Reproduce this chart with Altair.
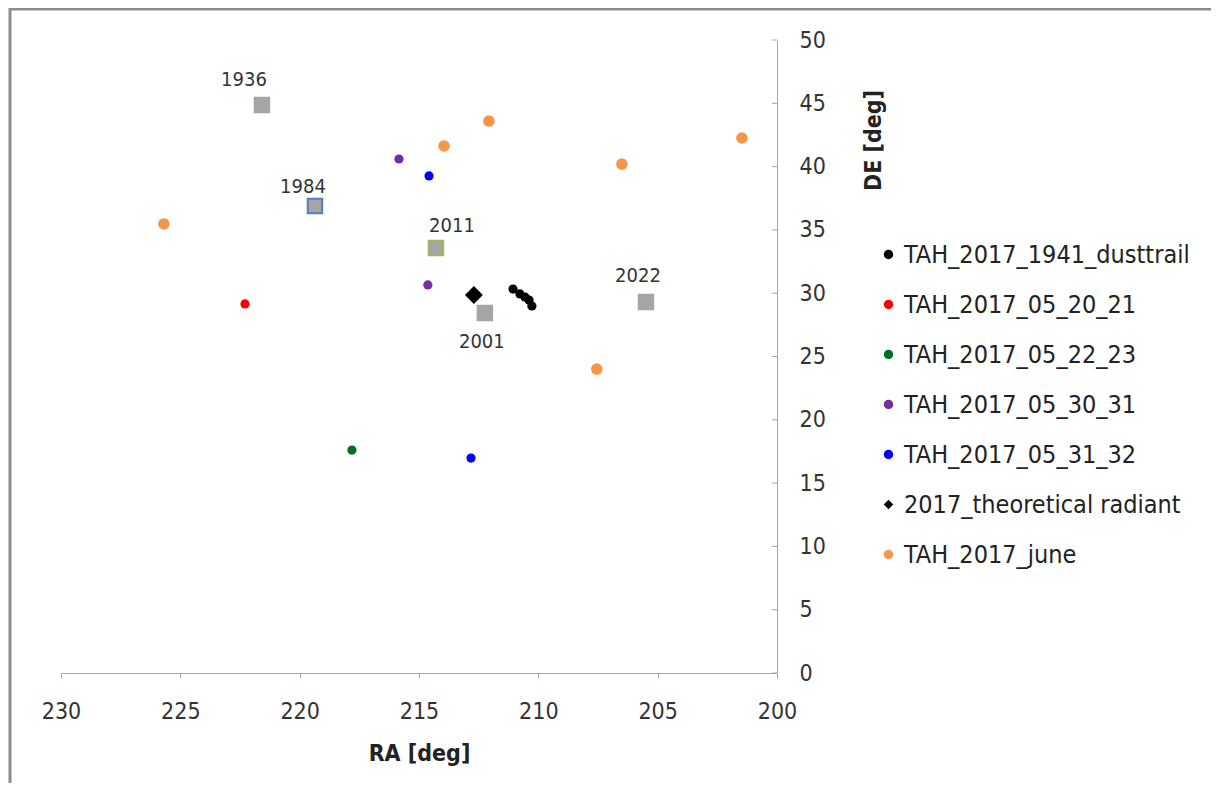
import altair as alt
import pandas as pd

# ---- data ----
series_names = ["TAH_2017_1941_dusttrail", "TAH_2017_05_20_21", "TAH_2017_05_22_23",
                "TAH_2017_05_30_31", "TAH_2017_05_31_32", "2017_theoretical radiant",
                "TAH_2017_june"]

dust_ra = [211.06, 210.77, 210.56, 210.39, 210.27]
dust_de = [30.33, 29.94, 29.70, 29.46, 28.99]
n0520_ra = [222.29]
n0520_de = [29.15]
n0522_ra = [217.81]
n0522_de = [17.61]
n0530_ra = [215.84, 214.63]
n0530_de = [40.6, 30.65]
n0531_ra = [214.58, 212.82]
n0531_de = [39.26, 16.98]
theo_ra = [212.70]
theo_de = [29.86]
june_ra = [225.69, 213.95, 212.07, 206.50, 201.47, 207.55]
june_de = [35.47, 41.63, 43.60, 40.20, 42.26, 24.01]

year_labels = ["1936", "1984", "2011", "2001", "2022"]
year_ra = [221.58, 219.36, 214.29, 212.24, 205.49]
year_de = [44.87, 36.89, 33.57, 28.44, 29.30]

x_ticks = [230, 225, 220, 215, 210, 205, 200]
y_ticks = [0, 5, 10, 15, 20, 25, 30, 35, 40, 45, 50]

# ---- styles ----
series_colors = ["#000000", "#FF0000", "#00701E", "#7030A0", "#0000FF", "#000000", "#F79646"]
series_shapes = ["circle", "circle", "circle", "circle", "circle", "diamond", "circle"]
series_size_map = {n: s for n, s in zip(series_names, [85, 85, 85, 85, 85, 320, 135])}
year_stroke_map = {"1936": "#A5A5A5", "1984": "#4F81BD", "2011": "#9BBB59",
                   "2001": "#A5A5A5", "2022": "#A5A5A5"}
year_offsets = {"1936": (-18, -25), "1984": (-12, -19), "2011": (16, -22),
                "2001": (-3, 29), "2022": (-8, -26)}

# ---- tables ----
rows = []
for name, ras, des in [
    (series_names[0], dust_ra, dust_de),
    (series_names[1], n0520_ra, n0520_de),
    (series_names[2], n0522_ra, n0522_de),
    (series_names[3], n0530_ra, n0530_de),
    (series_names[4], n0531_ra, n0531_de),
    (series_names[5], theo_ra, theo_de),
    (series_names[6], june_ra, june_de),
]:
    for r, d in zip(ras, des):
        rows.append({"series": name, "RA": r, "DE": d, "sz": series_size_map[name]})
pts = pd.DataFrame(rows)
years = pd.DataFrame({"year": year_labels, "RA": year_ra, "DE": year_de})
years["stroke"] = years["year"].map(year_stroke_map)
yt = pd.DataFrame({"DE": y_ticks})

W, H = 716, 633
FONT = "DejaVu Sans Condensed, Liberation Sans Narrow, Liberation Sans, sans-serif"

xscale = alt.Scale(domain=[230, 200], nice=False, zero=False)
yscale = alt.Scale(domain=[0, 50], nice=False, zero=False)

xenc = alt.X("RA:Q", scale=xscale,
             axis=alt.Axis(title="RA [deg]", values=x_ticks, orient="bottom",
                           domainColor="#A6A6A6", tickColor="#A6A6A6", tickSize=5,
                           labelFontSize=23, labelPadding=22, labelColor="#333333",
                           labelFlush=False, labelOverlap=False,
                           labelFont=FONT, titleFont=FONT, titleFontSize=23,
                           titleFontWeight="bold", titleColor="#222222", titlePadding=19,
                           grid=False))
yenc = alt.Y("DE:Q", scale=yscale,
             axis=alt.Axis(title="DE [deg]", values=y_ticks, orient="right",
                           domainColor="#A6A6A6", ticks=False,
                           labelFontSize=23, labelPadding=22, labelColor="#333333",
                           labelFlush=False, labelOverlap=False,
                           labelFont=FONT, titleFont=FONT, titleFontSize=23,
                           titleFontWeight="bold", titleColor="#222222",
                           titleAngle=270, titleX=96, titleY=100,
                           titleAlign="center", titleBaseline="middle", grid=False))

# year squares (carry the axes)
squares = alt.Chart(years).mark_square(size=210, filled=True, opacity=1,
                                       color="#A5A5A5", strokeWidth=2).encode(
    x=xenc, y=yenc,
    stroke=alt.Stroke("stroke:N", scale=None))

year_texts = []
for i, lab in enumerate(year_labels):
    dx, dy = year_offsets[lab]
    year_texts.append(
        alt.Chart(years.iloc[[i]]).mark_text(fontSize=20, font=FONT, color="#333333",
                                             dx=dx, dy=dy).encode(
            x=alt.X("RA:Q", scale=xscale), y=alt.Y("DE:Q", scale=yscale), text="year:N"))

# y-axis ticks pointing inward (left), as in the reference
yticks_layer = alt.Chart(yt).mark_rule(color="#A6A6A6", strokeWidth=1).encode(
    y=alt.Y("DE:Q", scale=yscale),
    x=alt.value(W - 5), x2=alt.value(W))

points = alt.Chart(pts).mark_point(filled=True, opacity=1, strokeWidth=0).encode(
    x=alt.X("RA:Q", scale=xscale), y=alt.Y("DE:Q", scale=yscale),
    color=alt.Color("series:N", scale=alt.Scale(domain=series_names, range=series_colors),
                    sort=series_names,
                    legend=alt.Legend(title=None, orient="none", legendX=815, legendY=202,
                                      labelFontSize=25, labelFont=FONT, labelColor="#222222",
                                      labelLimit=600, rowPadding=24, symbolSize=90,
                                      labelOffset=3, symbolStrokeWidth=0)),
    shape=alt.Shape("series:N", scale=alt.Scale(domain=series_names, range=series_shapes),
                    sort=series_names),
    size=alt.Size("sz:Q", scale=None, legend=None),
)

# outer chart frame (top and left edges visible in the reference)
frame_top = alt.Chart(yt.head(1)).mark_rule(color="#8C8C8C", strokeWidth=3).encode(
    x=alt.value(-52), x2=alt.value(W + 520), y=alt.value(-31))
frame_left = alt.Chart(yt.head(1)).mark_rule(color="#8C8C8C", strokeWidth=3).encode(
    x=alt.value(-51), y=alt.value(-32), y2=alt.value(H + 200))

chart = alt.layer(squares, *year_texts, points, yticks_layer, frame_top, frame_left).properties(
    width=W, height=H,
    background="white",
    autosize=alt.AutoSizeParams(type="none"),
    padding={"left": 53, "top": 32, "right": 434, "bottom": 110},
).configure_view(stroke=None)

chart.save("out.html", embed_options={"renderer": "svg", "actions": False})
